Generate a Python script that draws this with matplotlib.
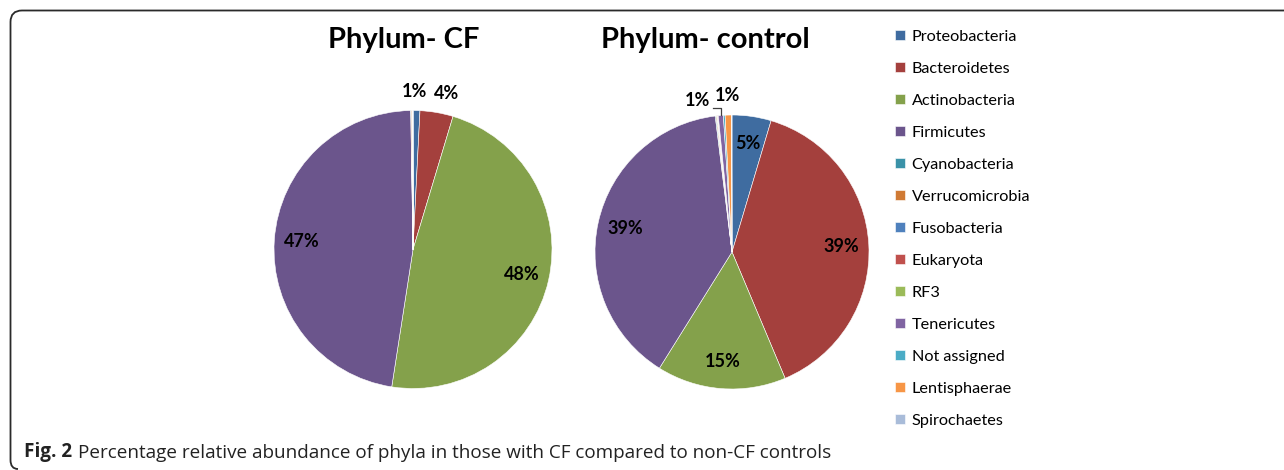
import numpy as np
import matplotlib
matplotlib.use("Agg")
import matplotlib.pyplot as plt
from matplotlib.path import Path
from matplotlib.patches import PathPatch

W, H = 1284, 470

phyla = ['Proteobacteria', 'Bacteroidetes', 'Actinobacteria', 'Firmicutes',
         'Cyanobacteria', 'Verrucomicrobia', 'Fusobacteria', 'Eukaryota', 'RF3',
         'Tenericutes', 'Not assigned', 'Lentisphaerae', 'Spirochaetes']
cf_pct = [0.8, 3.85, 47.8, 47.3, 0.05, 0.1, 0.03, 0.02, 0.01, 0.02, 0.01, 0.01, 0.01]
control_pct = [4.6, 39.0, 15.2, 39.1, 0.1, 0.1, 0.05, 0.05, 0.05, 0.6, 0.2, 0.75, 0.05]

colors = ['#3F6CA0', '#A4403D', '#84A14B', '#6B558C', '#3A92A8', '#D07A34',
          '#4F81BD', '#C0504D', '#9BBB59', '#8064A2', '#4BACC6', '#F79646', '#A9BCD9']

chart_font = ['Lato', 'DejaVu Sans']
plt.rcParams['font.family'] = chart_font

fig = plt.figure(figsize=(W / 100, H / 100), dpi=100)


def px_axes(x0, y0, w, h):
    return fig.add_axes([x0 / W, 1 - (y0 + h) / H, w / W, h / H])


# pies: (title, values, centre x, centre y, radius, title x) in pixels
pies = [('Phylum- CF', cf_pct, 413, 249.5, 139, 404),
        ('Phylum- control', control_pct, 732, 252, 137, 705)]

# nudges for labels placed outside (pixels)
nudge = {('Phylum- CF', 'Bacteroidetes'): (7, 0),
         ('Phylum- CF', 'Proteobacteria'): (-2, 0),
         ('Phylum- control', 'Tenericutes'): (-22, 4.5)}

canvas = px_axes(0, 0, W, H)
canvas.set_xlim(0, W)
canvas.set_ylim(H, 0)
canvas.axis('off')
canvas.set_zorder(10)

wedges_for_legend = None
for title, vals, cx, cy, r, tx in pies:
    ax = px_axes(cx - r, cy - r, 2 * r, 2 * r)
    wedges, _ = ax.pie(vals, colors=colors, startangle=90, counterclock=False,
                       radius=1, wedgeprops=dict(edgecolor='white', linewidth=0.4))
    ax.set_xlim(-1, 1)
    ax.set_ylim(-1, 1)
    ax.set_aspect('equal')
    ax.axis('off')
    if wedges_for_legend is None:
        wedges_for_legend = wedges
    canvas.text(tx, 40, title, ha='center', va='center', fontsize=21,
                fontweight='bold', color='black')

    total = sum(vals)
    for name, v, w in zip(phyla, vals, wedges):
        pct = v / total * 100
        if pct < 0.5:
            continue
        mid = np.deg2rad((w.theta1 + w.theta2) / 2)
        ux, uy = np.cos(mid), np.sin(mid)
        inside = pct >= 4.5
        rr = 0.8 if inside else 1.14
        lx = cx + ux * r * rr
        ly = cy - uy * r * rr
        dx, dy = nudge.get((title, name), (0, 0))
        lx += dx
        ly += dy
        canvas.text(lx, ly, f'{pct:.0f}%', ha='center', va='center',
                    fontsize=13, fontweight='bold', color='black')
        if (title, name) in nudge and nudge[(title, name)][0] < -10:
            ex = cx + ux * r
            ey = cy - uy * r
            canvas.plot([lx + 16, ex, ex], [ly + 7, ly + 7, ey],
                        color='#404040', lw=0.9)

leg = fig.legend(wedges_for_legend, phyla, loc='upper left',
                 bbox_to_anchor=(888 / W, 1 - 23 / H), frameon=False,
                 fontsize=11.7, handlelength=0.65, handleheight=0.65,
                 handletextpad=0.4, labelspacing=1.10, borderaxespad=0)

# caption
t1 = canvas.text(24, 452, 'Fig. 2', ha='left', va='center', fontsize=13.6,
                 fontweight='bold', family=['Open Sans', 'DejaVu Sans'], color='#222222')
canvas.annotate('Percentage relative abundance of phyla in those with CF compared to non-CF controls',
                xy=(1, 0), xycoords=t1, xytext=(4, 0), textcoords='offset points',
                ha='left', va='bottom', fontsize=13.6,
                family=['Open Sans', 'DejaVu Sans'], color='#222222')

# frame with rounded left corners
verts = [(W + 5, 10.5), (22, 10.5), (10.5, 10.5), (10.5, 22),
         (10.5, 460), (10.5, 469), (18, 469)]
codes = [Path.MOVETO, Path.LINETO, Path.CURVE3, Path.CURVE3,
         Path.LINETO, Path.CURVE3, Path.CURVE3]
canvas.add_patch(PathPatch(Path(verts, codes), fill=False, edgecolor='#2a2a2a',
                           lw=1.3, clip_on=False))

fig.savefig('out.png', dpi=100)
